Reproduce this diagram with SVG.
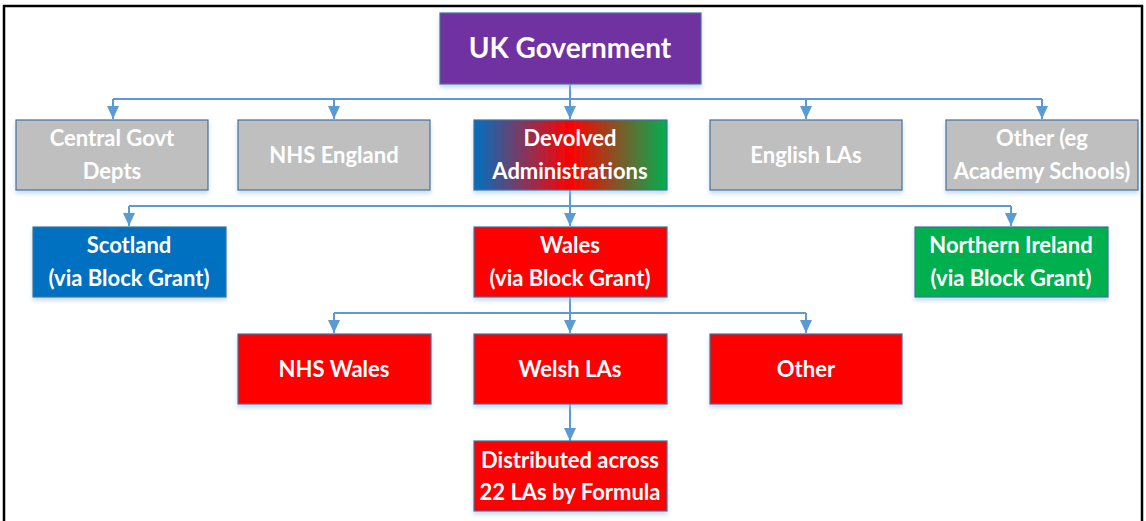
<svg xmlns="http://www.w3.org/2000/svg" width="1146" height="521" viewBox="0 0 1146 521">
<defs>
<linearGradient id="dev" x1="0" y1="0" x2="1" y2="0">
<stop offset="0" stop-color="#0070C0"/>
<stop offset="0.5" stop-color="#FF0000"/>
<stop offset="1" stop-color="#00B050"/>
</linearGradient>
<filter id="sh" x="-5%" y="-5%" width="110%" height="125%">
<feDropShadow dx="0" dy="3" stdDeviation="2" flood-color="#9DC3E6" flood-opacity="0.6"/>
</filter>
<marker id="ah" markerWidth="13" markerHeight="12" refX="13" refY="6" orient="auto" markerUnits="userSpaceOnUse" viewBox="0 0 13 12">
<path d="M0,0 L13,6 L0,12 Z" fill="#5B9BD5"/>
</marker>
</defs>
<style>
.box{stroke:#41719C;stroke-width:1.2;filter:url(#sh)}
.gray{fill:#BFBFBF}
.red{fill:#FF0000}
.t{font-family:Lato,"Open Sans",sans-serif;font-weight:bold;font-size:22px;fill:#FFFFFF;text-anchor:middle}
.c{fill:none;stroke:#5B9BD5;stroke-width:2}
</style>
<rect x="0" y="0" width="1146" height="521" fill="#FFFFFF"/>
<rect x="4" y="6" width="1138" height="540" fill="none" stroke="#000000" stroke-width="2.5"/>
<g id="connectors">
<path class="c" d="M570,84 V99"/>
<path class="c" d="M113,99 H1042"/>
<path class="c" d="M113,99 V119" marker-end="url(#ah)"/>
<path class="c" d="M334,99 V119" marker-end="url(#ah)"/>
<path class="c" d="M570,99 V119" marker-end="url(#ah)"/>
<path class="c" d="M806,99 V119" marker-end="url(#ah)"/>
<path class="c" d="M1042,99 V119" marker-end="url(#ah)"/>
<path class="c" d="M570,190 V206"/>
<path class="c" d="M129,206 H1011"/>
<path class="c" d="M129,206 V226" marker-end="url(#ah)"/>
<path class="c" d="M570,206 V226" marker-end="url(#ah)"/>
<path class="c" d="M1011,206 V226" marker-end="url(#ah)"/>
<path class="c" d="M570,297 V313"/>
<path class="c" d="M334,313 H806"/>
<path class="c" d="M334,313 V333" marker-end="url(#ah)"/>
<path class="c" d="M570,313 V333" marker-end="url(#ah)"/>
<path class="c" d="M806,313 V333" marker-end="url(#ah)"/>
<path class="c" d="M570,404 V441" marker-end="url(#ah)"/>
</g>
<g id="uk-government">
<rect class="box" x="440" y="13" width="261" height="71" fill="#7030A0"/>
<text class="t" x="570" y="58" style="font-size:28px">UK Government</text>
</g>
<g id="central-govt">
<rect class="box gray" x="16" y="120" width="192" height="70"/>
<text class="t" x="112" y="146">Central Govt</text>
<text class="t" x="112" y="179">Depts</text>
</g>
<g id="nhs-england">
<rect class="box gray" x="238" y="120" width="192" height="70"/>
<text class="t" x="334" y="163">NHS England</text>
</g>
<g id="devolved">
<rect class="box" x="474" y="120" width="193" height="70" fill="url(#dev)"/>
<text class="t" x="570" y="146">Devolved</text>
<text class="t" x="570" y="179">Administrations</text>
</g>
<g id="english-las">
<rect class="box gray" x="710" y="120" width="192" height="70"/>
<text class="t" x="806" y="163">English LAs</text>
</g>
<g id="other-eg">
<rect class="box gray" x="946" y="120" width="192" height="70"/>
<text class="t" x="1042" y="146">Other (eg</text>
<text class="t" x="1042" y="179">Academy Schools)</text>
</g>
<g id="scotland">
<rect class="box" x="33" y="227" width="193" height="70" fill="#0070C0"/>
<text class="t" x="129" y="253">Scotland</text>
<text class="t" x="129" y="286">(via Block Grant)</text>
</g>
<g id="wales">
<rect class="box red" x="474" y="227" width="193" height="70"/>
<text class="t" x="570" y="253">Wales</text>
<text class="t" x="570" y="286">(via Block Grant)</text>
</g>
<g id="northern-ireland">
<rect class="box" x="915" y="227" width="193" height="70" fill="#00B050"/>
<text class="t" x="1011" y="253">Northern Ireland</text>
<text class="t" x="1011" y="286">(via Block Grant)</text>
</g>
<g id="nhs-wales">
<rect class="box red" x="238" y="334" width="193" height="70"/>
<text class="t" x="334" y="377">NHS Wales</text>
</g>
<g id="welsh-las">
<rect class="box red" x="474" y="334" width="193" height="70"/>
<text class="t" x="570" y="377">Welsh LAs</text>
</g>
<g id="other-wales">
<rect class="box red" x="710" y="334" width="192" height="70"/>
<text class="t" x="806" y="377">Other</text>
</g>
<g id="distributed">
<rect class="box red" x="474" y="441" width="193" height="70"/>
<text class="t" x="570" y="468">Distributed across</text>
<text class="t" x="570" y="500">22 LAs by Formula</text>
</g>
</svg>
